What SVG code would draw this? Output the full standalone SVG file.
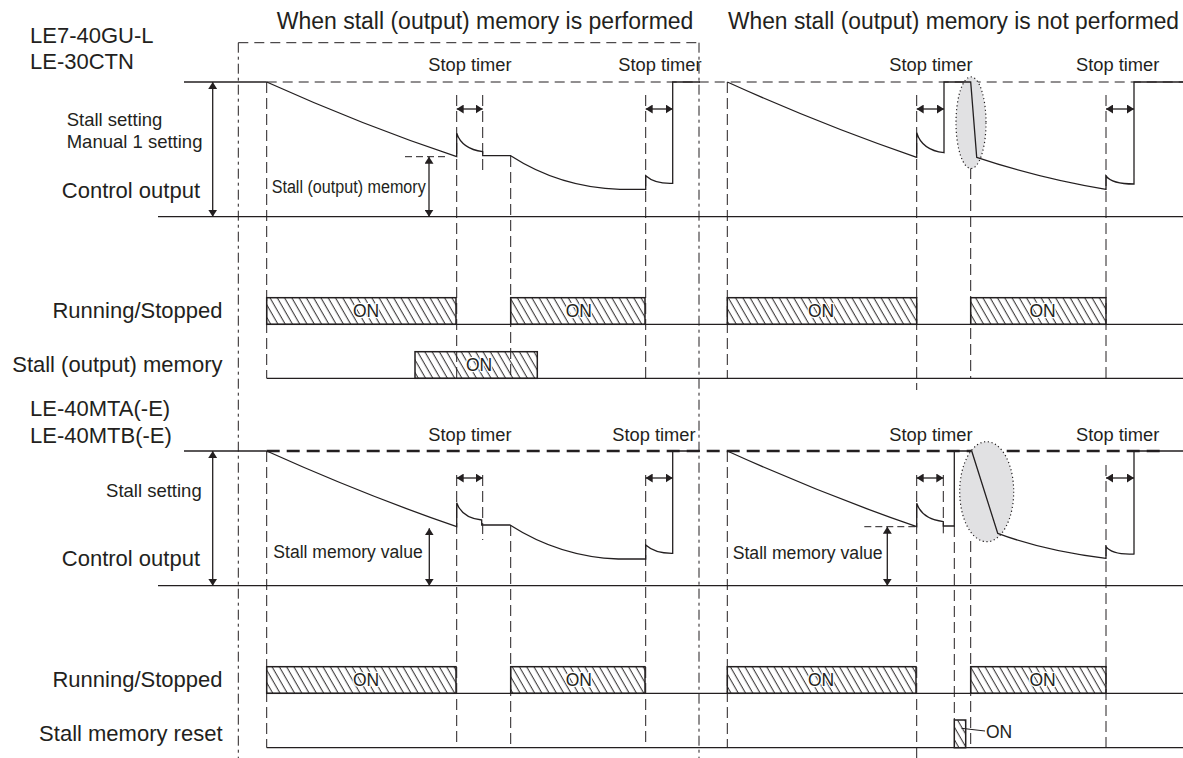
<svg xmlns="http://www.w3.org/2000/svg" width="1183" height="758" viewBox="0 0 1183 758">
<style>
text{font-family:"Liberation Sans",Arial,sans-serif;fill:#231f20}
.big{font-size:22px}
.title{font-size:23px}
.mid{font-size:18.5px}
.st{font-size:18.3px}
.on{font-size:17.5px;text-anchor:middle;stroke:#fff;stroke-width:2.5;paint-order:stroke;stroke-linejoin:round}
.sig{fill:none;stroke:#231f20;stroke-width:1.3}
.ln{fill:none;stroke:#231f20;stroke-width:1.3}
.dv{fill:none;stroke:#231f20;stroke-width:1;stroke-dasharray:11 5}
.dd{fill:none;stroke:#231f20;stroke-width:1;stroke-dasharray:10 4 3 4}
.box{fill:url(#hatch);stroke:#231f20;stroke-width:1.5}
.arr{fill:none;stroke:#231f20;stroke-width:1.3;marker-start:url(#ah);marker-end:url(#ah)}
.ell{fill:#e1e1e3;stroke:#231f20;stroke-width:1.2;stroke-dasharray:1.2 2.6}
</style>
<defs>
<pattern id="hatch" patternUnits="userSpaceOnUse" width="6.3" height="10" patternTransform="rotate(-30)">
<line x1="3" y1="-1" x2="3" y2="11" stroke="#231f20" stroke-width="0.95"/>
</pattern>
<marker id="ah" viewBox="0 0 7 9" refX="7" refY="4.5" markerWidth="7" markerHeight="9" markerUnits="userSpaceOnUse" orient="auto-start-reverse">
<path d="M0,0 L7,4.5 L0,9 z" fill="#231f20"/>
</marker>
</defs>

<g id="titles">
<text class="title" x="276.7" y="29.3">When stall (output) memory is performed</text>
<text class="title" x="728" y="29.3" textLength="451" lengthAdjust="spacingAndGlyphs">When stall (output) memory is not performed</text>
</g>

<g id="frame">
<line class="dv" x1="238.3" y1="42.7" x2="699" y2="42.7" style="stroke-dasharray:10 6"/>
<line class="dd" x1="238.3" y1="42.7" x2="238.3" y2="758"/>
<line class="dd" x1="699" y1="42.7" x2="699" y2="758"/>
</g>

<!-- Section 1 -->
<g id="sec1-labels">
<text class="big" x="30" y="42.7">LE7-40GU-L</text>
<text class="big" x="30" y="69.3">LE-30CTN</text>
<text class="mid" x="66.7" y="126">Stall setting</text>
<text class="mid" x="66.7" y="148.3">Manual 1 setting</text>
<text class="big" x="200" y="198.3" text-anchor="end">Control output</text>
<text class="big" x="222.5" y="318.3" text-anchor="end">Running/Stopped</text>
<text class="big" x="222.5" y="371.7" text-anchor="end">Stall (output) memory</text>
<text class="st" x="428.3" y="70.7">Stop timer</text>
<text class="st" x="618.3" y="70.7">Stop timer</text>
<text class="st" x="889.3" y="70.7">Stop timer</text>
<text class="st" x="1076" y="70.7">Stop timer</text>
<text x="271.7" y="193.3" font-size="18" textLength="154" lengthAdjust="spacingAndGlyphs">Stall (output) memory</text>
</g>

<g id="sec1-axes">
<line class="ln" x1="184" y1="82" x2="266.7" y2="82"/>
<line class="dv" x1="266.7" y1="82" x2="1183" y2="82" style="stroke-dasharray:10 6"/>
<line class="ln" x1="158" y1="216.7" x2="1183" y2="216.7"/>
<line class="arr" x1="212.7" y1="82" x2="212.7" y2="216.7"/>
<line class="ln" x1="266.7" y1="324.3" x2="1183" y2="324.3"/>
<line class="ln" x1="266.7" y1="378.3" x2="1183" y2="378.3"/>
</g>

<g id="sec1-guides">
<line class="dv" x1="266.7" y1="82" x2="266.7" y2="378.3"/>
<line class="dv" x1="456.7" y1="95" x2="456.7" y2="378.3"/>
<line class="dv" x1="482.7" y1="95" x2="482.7" y2="173"/>
<line class="dv" x1="510.7" y1="156" x2="510.7" y2="378.3"/>
<line class="dv" x1="645.7" y1="95" x2="645.7" y2="380"/>
<line class="dv" x1="727.3" y1="82" x2="727.3" y2="378.3"/>
<line class="dv" x1="916.7" y1="95" x2="916.7" y2="390"/>
<line class="dv" x1="970.7" y1="168" x2="970.7" y2="378.3"/>
<line class="dv" x1="1106" y1="95" x2="1106" y2="380"/>
<line class="dv" x1="405" y1="156.7" x2="446" y2="156.7" style="stroke-dasharray:7 4"/>
</g>

<ellipse class="ell" cx="971" cy="122.7" rx="15" ry="45.8"/>

<g id="sec1-signal">
<path class="sig" d="M266.7,82 Q362,125 456.7,156.7 L456.7,133.3 Q462,149 482.7,151.7 L482.7,155.7 L510.7,155.7 Q560,187.5 620,189.3 L645.7,189.3 L645.7,175.7 Q655,184 672.7,183.3 L672.7,82 L700,82"/>
<path class="sig" d="M727.3,82 Q822,125 916.7,157.3 L916.7,132.7 Q922,150 944,152.7 L944,82 L970.7,82 L976.7,157.3 Q1041,178.7 1106,189.3 L1106,176 Q1112,184 1134,184 L1134,82 L1183,82"/>
<line class="arr" x1="456.7" y1="109" x2="482.7" y2="109"/>
<line class="arr" x1="645.7" y1="109" x2="672.7" y2="109"/>
<line class="arr" x1="916.7" y1="109" x2="944" y2="109"/>
<line class="arr" x1="1106" y1="109" x2="1134" y2="109"/>
<line class="arr" x1="429" y1="156.7" x2="429" y2="216.7"/>
</g>

<g id="sec1-bars">
<rect class="box" x="266.7" y="297.7" width="189.3" height="26.6"/>
<text class="on" x="366" y="316.7">ON</text>
<rect class="box" x="510.7" y="297.7" width="134.3" height="26.6"/>
<text class="on" x="578.8" y="316.7">ON</text>
<rect class="box" x="727.3" y="297.7" width="189.4" height="26.6"/>
<text class="on" x="821" y="316.7">ON</text>
<rect class="box" x="970.7" y="297.7" width="135.3" height="26.6"/>
<text class="on" x="1042.5" y="316.7">ON</text>
<rect class="box" x="415" y="351.7" width="122.3" height="26.6"/>
<text class="on" x="479" y="371">ON</text>
</g>

<!-- Section 2 -->
<g id="sec2-labels">
<text class="big" x="30" y="416">LE-40MTA(-E)</text>
<text class="big" x="30" y="442.5">LE-40MTB(-E)</text>
<text class="mid" x="201.7" y="497" text-anchor="end">Stall setting</text>
<text class="big" x="200" y="566" text-anchor="end">Control output</text>
<text class="big" x="222.5" y="687.3" text-anchor="end">Running/Stopped</text>
<text class="big" x="222.5" y="741" text-anchor="end">Stall memory reset</text>
<text class="st" x="428.3" y="441">Stop timer</text>
<text class="st" x="612.3" y="441">Stop timer</text>
<text class="st" x="889.3" y="441">Stop timer</text>
<text class="st" x="1076" y="441">Stop timer</text>
<text x="273.3" y="557.5" font-size="18" textLength="149.4" lengthAdjust="spacingAndGlyphs">Stall memory value</text>
<text x="732.7" y="558.5" font-size="18" textLength="150" lengthAdjust="spacingAndGlyphs">Stall memory value</text>
</g>

<g id="sec2-axes">
<line class="ln" x1="184" y1="451" x2="266.7" y2="451"/>
<line class="dv" x1="266.7" y1="451" x2="1160" y2="451" style="stroke-width:2.5;stroke-dasharray:13 7"/>
<line class="ln" x1="158" y1="585.7" x2="1183" y2="585.7"/>
<line class="arr" x1="212.7" y1="451" x2="212.7" y2="585.7"/>
<line class="ln" x1="266.7" y1="693.3" x2="1183" y2="693.3"/>
<line class="ln" x1="266.7" y1="747.7" x2="1183" y2="747.7"/>
</g>

<g id="sec2-guides">
<line class="dv" x1="266.7" y1="451" x2="266.7" y2="747.7"/>
<line class="dv" x1="456.7" y1="475" x2="456.7" y2="747.7"/>
<line class="dv" x1="482.7" y1="475" x2="482.7" y2="540"/>
<line class="dv" x1="510.7" y1="525" x2="510.7" y2="747.7"/>
<line class="dv" x1="645.7" y1="475" x2="645.7" y2="747.7"/>
<line class="dv" x1="727.3" y1="451" x2="727.3" y2="747.7"/>
<line class="dv" x1="916.7" y1="475" x2="916.7" y2="758"/>
<line class="dv" x1="943.3" y1="475" x2="943.3" y2="533.3"/>
<line class="dv" x1="954.3" y1="526" x2="954.3" y2="720"/>
<line class="dv" x1="970.7" y1="541" x2="970.7" y2="747.7"/>
<line class="dv" x1="1106" y1="465" x2="1106" y2="747.7"/>
<line class="dv" x1="864.3" y1="526.7" x2="916" y2="526.7" style="stroke-dasharray:7 4"/>
</g>

<ellipse class="ell" cx="986.7" cy="491.7" rx="27" ry="50"/>

<g id="sec2-signal">
<path class="sig" d="M266.7,451 Q362,494 456.7,526.7 L456.7,502.7 Q462,518 481.7,520 L481.7,525 L510,525 Q560,557 618.3,559 L645.7,559 L645.7,545 Q655,553.5 672.7,553.3 L672.7,451 L700,451"/>
<path class="sig" d="M727.3,451 Q822,494 916.7,526.7 L916.7,503.3 Q922,519 943.3,521.7 L943.3,526 L954.3,526 L954.3,451 L971.7,451 L997.7,533.3 Q1045,551 1106,558.3 L1106,546.7 Q1112,555 1134,554 L1134,451 L1183,451"/>
<line class="arr" x1="456.7" y1="478" x2="482.7" y2="478"/>
<line class="arr" x1="645.7" y1="478" x2="672.7" y2="478"/>
<line class="arr" x1="916.7" y1="478" x2="943.3" y2="478"/>
<line class="arr" x1="1106" y1="478" x2="1134" y2="478"/>
<line class="arr" x1="429.3" y1="528.3" x2="429.3" y2="585.7"/>
<line class="arr" x1="887.3" y1="526.7" x2="887.3" y2="585.7"/>
</g>

<g id="sec2-bars">
<rect class="box" x="266.7" y="666.7" width="189.3" height="26.6"/>
<text class="on" x="366" y="686.3">ON</text>
<rect class="box" x="510.7" y="666.7" width="134.3" height="26.6"/>
<text class="on" x="578.8" y="686.3">ON</text>
<rect class="box" x="727.3" y="666.7" width="188.7" height="26.6"/>
<text class="on" x="821" y="686.3">ON</text>
<rect class="box" x="970.7" y="666.7" width="135.3" height="26.6"/>
<text class="on" x="1042.5" y="686.3">ON</text>
<rect class="box" x="954.3" y="720" width="11.4" height="27.7"/>
<line class="ln" x1="961.5" y1="728.3" x2="985" y2="731" style="stroke-width:1"/>
<text x="986" y="738.3" font-size="17.5">ON</text>
</g>
</svg>
